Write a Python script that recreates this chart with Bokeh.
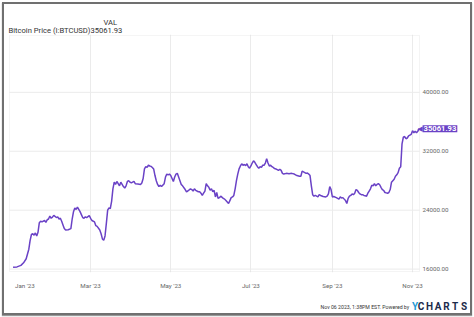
from bokeh.plotting import figure
from bokeh.layouts import column
from bokeh.models import Range1d, FixedTicker, ColumnDataSource, Title, Label, BoxAnnotation
from bokeh.core.properties import value
from bokeh.embed import file_html
from bokeh.resources import INLINE

# ---- data ----
day_offsets = [0, 3, 6, 8, 10, 12, 13, 14, 15, 16, 17, 18, 19, 20, 21, 22, 24, 25, 26, 27, 28, 29, 30, 31, 33, 34,
               35, 36, 37, 38, 39, 40, 42, 44, 45, 46, 47, 48, 49, 50, 51, 52, 53, 54, 55, 56, 58, 59, 60, 62, 63,
               64, 66, 67, 68, 69, 70, 71, 72, 73, 74, 75, 76, 77, 78, 79, 80, 81, 82, 83, 84, 85, 86, 87, 88, 89,
               90, 92, 93, 95, 97, 98, 99, 100, 101, 102, 103, 104, 105, 106, 107, 108, 109, 110, 111, 112, 113,
               115, 116, 117, 118, 119, 120, 121, 122, 123, 124, 125, 126, 127, 128, 129, 131, 132, 133, 135, 136,
               137, 138, 139, 141, 142, 143, 144, 145, 146, 147, 148, 149, 150, 151, 152, 153, 154, 155, 156, 157,
               158, 160, 161, 162, 163, 164, 165, 166, 167, 168, 169, 170, 171, 172, 173, 174, 175, 176, 177, 178,
               179, 180, 181, 182, 183, 184, 185, 186, 187, 188, 189, 190, 191, 192, 193, 194, 195, 196, 197, 198,
               199, 200, 201, 202, 203, 204, 205, 206, 208, 210, 212, 214, 216, 218, 219, 220, 221, 222, 223, 224,
               225, 226, 227, 228, 229, 230, 232, 233, 234, 236, 238, 239, 240, 241, 242, 243, 244, 246, 248, 249,
               250, 251, 252, 253, 254, 255, 256, 257, 258, 259, 260, 261, 262, 263, 264, 265, 266, 267, 268, 269,
               270, 271, 272, 273, 274, 275, 276, 277, 278, 279, 280, 281, 282, 283, 284, 285, 286, 287, 288, 289,
               290, 291, 292, 293, 294, 295, 296, 297, 298, 299, 300, 301, 302, 303, 304, 305, 306, 307, 308, 309]
btc_price = [16250, 16300, 16500, 16850, 17400, 18700, 19900, 20700, 20800, 20600, 20900, 20500, 21000, 22300,
             22500, 22400, 22600, 22350, 22700, 22800, 23200, 22900, 23050, 23300, 23000, 23100, 22800, 22900,
             22500, 22000, 21500, 21300, 21350, 21500, 22800, 23800, 24300, 24100, 24400, 24100, 23800, 23400,
             23000, 22900, 23100, 23000, 23250, 22900, 22600, 22400, 21900, 21800, 21300, 20800, 20100, 19900,
             20500, 22200, 24000, 24300, 24200, 25200, 26900, 27800, 27500, 27900, 27600, 27300, 27800, 27500,
             27200, 27000, 27300, 27900, 28000, 27800, 27700, 27900, 27600, 27550, 27500, 27700, 28300, 29600,
             29900, 29800, 30100, 30000, 29950, 29800, 29600, 28700, 28000, 27500, 27200, 27400, 27200, 27600,
             28500, 28900, 28800, 28900, 28700, 28300, 27900, 28500, 28900, 29000, 28500, 28000, 27500, 27300,
             26800, 26500, 26600, 26900, 26800, 26600, 26900, 26700, 26500, 26500, 26300, 26000, 26300, 26600,
             27600, 27300, 27100, 26700, 26900, 26500, 26700, 25800, 26400, 25600, 25700, 25900, 25600, 25500,
             25300, 25100, 24900, 25300, 25700, 25800, 26000, 26900, 28000, 28900, 29600, 30000, 30300, 30100,
             30200, 30050, 30300, 29900, 29700, 30000, 30400, 30700, 30500, 30200, 29900, 29700, 29900, 29800,
             30100, 30100, 30400, 31000, 30400, 30000, 30100, 29900, 29800, 29650, 29600, 29500, 29400, 29550,
             29400, 29000, 28900, 29000, 28950, 29000, 28900, 28700, 28600, 28600, 29300, 29200, 29100, 29000,
             29050, 28900, 28700, 27300, 26100, 25900, 26000, 25800, 26100, 26000, 25850, 25800, 25900, 26200,
             27200, 26800, 25800, 25850, 25700, 25500, 25800, 25650, 25700, 25500, 25300, 24900, 25600, 25900,
             26000, 26200, 26100, 26300, 26800, 26700, 26400, 26200, 26100, 26100, 26000, 25950, 25900, 26300,
             26600, 26900, 27400, 27300, 27600, 27300, 27500, 27600, 27450, 27100, 26800, 26700, 26400, 26350,
             26300, 26400, 26800, 27800, 28000, 28200, 28600, 28800, 29100, 29700, 29900, 33000, 33900, 34000,
             33700, 33800, 34100, 34200, 34300, 34800, 34500, 34700, 34500, 34700, 35061.93]
last_value = 35061.93
x_tick_days = [9, 59, 120, 181, 243, 304]
x_tick_labels = ["Jan '23", "Mar '23", "May '23", "Jul '23", "Sep '23", "Nov '23"]
x_grid_days = [59, 120, 181, 243, 304]
y_ticks = [16000, 24000, 32000, 40000]
y_tick_labels = ["16000.00", "24000.00", "32000.00", "40000.00"]
title_text = "Bitcoin Price (I:BTCUSD)35061.93"
footer_text = "Nov 06 2023, 1:38PM EST.  Powered by"
brand_letters = ["Y", "C", "H", "A", "R", "T", "S"]
brand_colors = ["#1e9ad6", "#1c2b4b", "#1c2b4b", "#1c2b4b", "#1c2b4b", "#1c2b4b", "#1c2b4b"]

LINE = "#6a42c6"
GRID = "#ebebeb"
# plot area (in data units) and the wider frame that also holds the value labels
X_START, X_END = -2.7, 309.3
Y_MIN, Y_MAX = 15670, 47720
PX_DAY = 410 / (X_END - X_START)
PX_VAL = 241 / (Y_MAX - Y_MIN)

src = ColumnDataSource(data=dict(x=day_offsets, y=btc_price))

p = figure(width=466, height=288, output_backend="svg", toolbar_location=None,
           x_range=Range1d(X_START - 1 / PX_DAY, X_START + 461 / PX_DAY),
           y_range=Range1d(Y_MIN - 1 / PX_VAL, Y_MAX + 1 / PX_VAL),
           min_border_left=4, min_border_right=0, min_border_top=30, min_border_bottom=15,
           y_axis_location=None)
p.background_fill_color = "white"
p.border_fill_color = "white"
p.outline_line_color = None

# grid
p.xgrid.ticker = FixedTicker(ticks=x_grid_days)
p.xgrid.grid_line_color = GRID
p.ygrid.visible = False
p.segment(x0=X_START, x1=X_END, y0=y_ticks, y1=y_ticks, line_color=GRID, line_width=1)
p.add_layout(BoxAnnotation(left=X_START, right=X_END, bottom=Y_MIN, top=Y_MAX,
                           fill_alpha=0, line_color="#d9d9d9", line_width=1))

p.line("x", "y", source=src, line_color=LINE, line_width=1.5)

# value labels on the right of the plot area
p.text(x=X_END, y=y_ticks, text=y_tick_labels, x_offset=3, text_font=value("Roboto"),
       text_font_size="6.2px", text_color="#666666", text_align="left", text_baseline="middle")

# titles above the frame
t2 = Title(text=title_text, align="left", offset=0,
           text_font="Roboto", text_font_size="7.6px", text_font_style="normal", text_color="#333333",
           standoff=0)
t1 = Title(text="VAL", align="left", offset=95,
           text_font="Roboto", text_font_size="7.6px", text_font_style="normal", text_color="#333333",
           standoff=-7)
p.add_layout(t2, "above")
p.add_layout(t1, "above")

# x axis
xa = p.xaxis[0]
xa.ticker = FixedTicker(ticks=x_tick_days)
xa.major_label_overrides = {d: t for d, t in zip(x_tick_days, x_tick_labels)}
xa.axis_line_color = None
xa.major_tick_line_color = None
xa.minor_tick_line_color = None
xa.major_label_text_font = "Roboto"
xa.major_label_text_font_size = "6.2px"
xa.major_label_text_color = "#666666"
xa.major_label_standoff = 3

# last-value flag
p.add_layout(Label(x=day_offsets[-1], y=last_value, text="\u25C0", x_offset=3.5,
                   text_font="DejaVu Sans", text_font_size="7px", text_color=LINE,
                   text_align="right", text_baseline="middle"))
p.add_layout(Label(x=day_offsets[-1], y=last_value, text=f"{last_value:.2f}", x_offset=3.5,
                   text_font="Roboto", text_font_size="7.6px", text_font_style="bold",
                   text_color="white", background_fill_color=LINE, padding=1,
                   text_align="left", text_baseline="middle"))

# footer strip (x in page pixels, frame aligned with the chart above)
f = figure(width=466, height=21, output_backend="svg", toolbar_location=None,
           x_range=Range1d(8, 470), y_range=Range1d(0, 21),
           min_border=0, x_axis_type=None, y_axis_type=None)
f.grid.visible = False
f.outline_line_color = None
f.background_fill_color = "white"
f.border_fill_color = "white"
f.text(x=[410], y=[7], text=[footer_text], text_font=value("Roboto"), text_font_size="5.2px",
       text_color="#333333", text_align="right", text_baseline="middle")
f.text(x=[414.5, 420.5, 429, 437.5, 446, 454.5, 463.5], y=[7.5] * 7, text=brand_letters,
       text_color=brand_colors, text_font=value("Roboto"), text_font_size="10px", text_font_style="bold",
       text_align="center", text_baseline="middle")

layout = column(p, f, spacing=0,
                styles={"border": "2px solid #707070", "margin": "2px",
                        "box-shadow": "0 1px 1px #999999"})

open("out.html", "w").write(file_html(layout, INLINE))
